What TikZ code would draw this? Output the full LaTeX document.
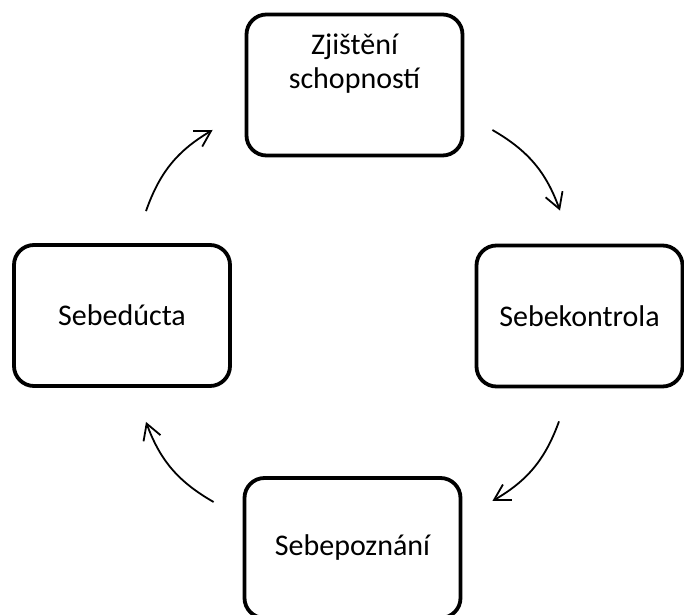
\documentclass[tikz,border=0pt]{standalone}
\usepackage{fontspec}
\setmainfont{Carlito}
\usetikzlibrary{arrows.meta}

\tikzset{
  stage/.style={draw, line width=3.8bp, rounded corners=20bp, minimum width=216bp, minimum height=141bp, inner sep=0pt, font=\fontsize{30bp}{34bp}\selectfont},
  cyc/.style={->, line width=1.8bp, >={Straight Barb[angle=60:18bp]}, bend left=20},
}

\begin{document}
\begin{tikzpicture}[x=1bp,y=1bp]
\useasboundingbox (0,0) rectangle (684,615);
\clip (0,0) rectangle (684,615);

\node[stage] (zjisteni) at (354.5,530) {};
\node[align=center, font=\fontsize{30bp}{34bp}\selectfont] (zjisteni-txt) at ([yshift=21.5]zjisteni.center) {Zjištění\\schopností};
\node[stage, minimum width=206bp] (kontrola) at (579.5,299) {Sebekontrola};
\node[stage, minimum height=140bp] (poznani) at (352.5,67) {Sebepoznání};
\node[stage] (ucta) at (122,299.5) {Sebedúcta};

% sipky po smeru hodin
\draw[cyc] ([shift={(24,32)}]ucta.north) to ([shift={(-32,-45)}]zjisteni.west);
\draw[cyc] ([shift={(28,-45)}]zjisteni.east) to ([shift={(-19.5,33)}]kontrola.north);
\draw[cyc] ([shift={(-20.5,-33)}]kontrola.south) to ([shift={(30,47)}]poznani.east);
\draw[cyc] ([shift={(-29,46)}]poznani.west) to ([shift={(24,-34)}]ucta.south);

\end{tikzpicture}
\end{document}
